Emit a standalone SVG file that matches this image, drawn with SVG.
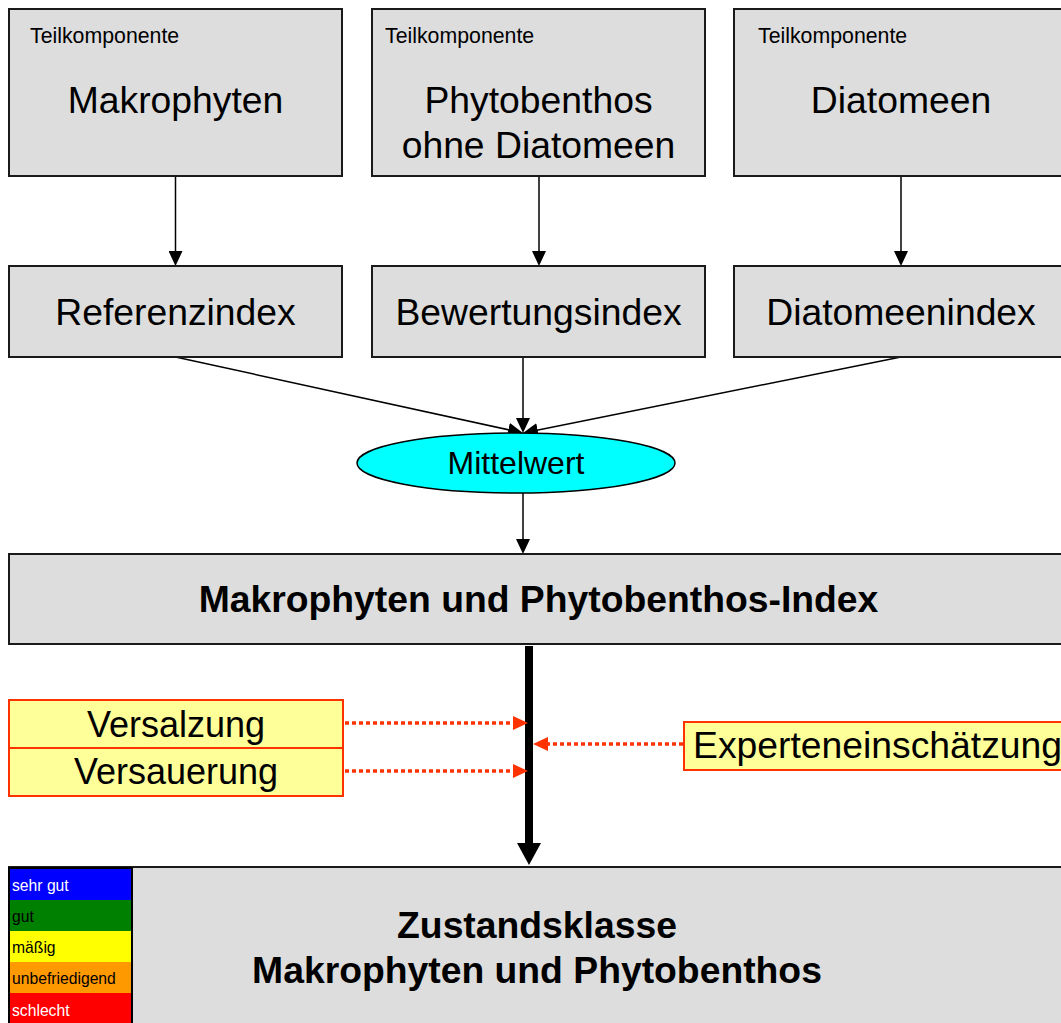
<svg xmlns="http://www.w3.org/2000/svg" width="1061" height="1023" viewBox="0 0 1061 1023">
<style>
text{font-family:"Liberation Sans",Arial,sans-serif;fill:#000}
.box{fill:#DDDDDD;stroke:#1a1a1a;stroke-width:2}
.yel{fill:#FFFF99;stroke:#FF3300;stroke-width:2}
.small{font-size:21.3px}
.big{font-size:37.3px}
.bold{font-size:37.3px;font-weight:bold}
.leg{font-size:15.7px}
.c{text-anchor:middle}
.thin{stroke:#000;stroke-width:1.5;fill:none}
.dot{stroke:#FF3300;stroke-width:3.5;stroke-dasharray:4 3;fill:none}
</style>
<defs>
<marker id="ab" viewBox="0 0 15 14" refX="2" refY="7" markerWidth="15" markerHeight="14" markerUnits="userSpaceOnUse" orient="auto"><path d="M0,0L15,7L0,14z" fill="#000"/></marker>
<marker id="ar" viewBox="0 0 15 14" refX="1" refY="7" markerWidth="15" markerHeight="14" markerUnits="userSpaceOnUse" orient="auto"><path d="M0,0L15,7L0,14z" fill="#FF3300"/></marker>
<marker id="abig" viewBox="0 0 22 24" refX="1" refY="12" markerWidth="22" markerHeight="24" markerUnits="userSpaceOnUse" orient="auto"><path d="M0,0L22,12L0,24z" fill="#000"/></marker>
</defs>
<rect width="1061" height="1023" fill="#fff"/>

<g id="connectors">
<line class="thin" x1="175.5" y1="176" x2="175.5" y2="253" marker-end="url(#ab)"/>
<line class="thin" x1="539" y1="176" x2="539" y2="253" marker-end="url(#ab)"/>
<line class="thin" x1="901" y1="176" x2="901" y2="253" marker-end="url(#ab)"/>
<line class="thin" x1="175.5" y1="357" x2="510.3" y2="430.2" marker-end="url(#ab)"/>
<line class="thin" x1="523" y1="357" x2="523" y2="420" marker-end="url(#ab)"/>
<line class="thin" x1="901" y1="357" x2="535.7" y2="430.5" marker-end="url(#ab)"/>
<line class="thin" x1="523" y1="493" x2="523" y2="541" marker-end="url(#ab)"/>
<line x1="529" y1="646" x2="529" y2="844" stroke="#000" stroke-width="8" marker-end="url(#abig)"/>
<line class="dot" x1="345" y1="723" x2="514" y2="723" marker-end="url(#ar)"/>
<line class="dot" x1="345" y1="771" x2="514" y2="771" marker-end="url(#ar)"/>
<line class="dot" x1="683" y1="744" x2="547" y2="744" marker-end="url(#ar)"/>
</g>

<g id="makrophyten">
<rect class="box" x="9" y="9" width="333" height="167"/>
<text class="small" x="30" y="43">Teilkomponente</text>
<text class="big c" x="175.5" y="113">Makrophyten</text>
</g>
<g id="phytobenthos">
<rect class="box" x="372" y="9" width="333" height="167"/>
<text class="small" x="385" y="43">Teilkomponente</text>
<text class="big c" x="538.5" y="113">Phytobenthos</text>
<text class="big c" x="538.5" y="158">ohne Diatomeen</text>
</g>
<g id="diatomeen">
<rect class="box" x="734" y="9" width="334" height="167"/>
<text class="small" x="758" y="43">Teilkomponente</text>
<text class="big c" x="901" y="113">Diatomeen</text>
</g>

<g id="referenzindex">
<rect class="box" x="9" y="266" width="333" height="91"/>
<text class="big c" x="175.5" y="325">Referenzindex</text>
</g>
<g id="bewertungsindex">
<rect class="box" x="372" y="266" width="333" height="91"/>
<text class="big c" x="538.5" y="325">Bewertungsindex</text>
</g>
<g id="diatomeenindex">
<rect class="box" x="734" y="266" width="334" height="91"/>
<text class="big c" x="901" y="325">Diatomeenindex</text>
</g>

<g id="mittelwert">
<ellipse cx="516" cy="463" rx="159" ry="30" fill="#00FFFF" stroke="#000" stroke-width="1.5"/>
<text class="c" x="516" y="474" font-size="32">Mittelwert</text>
</g>

<g id="mpi">
<rect class="box" x="9" y="554" width="1060" height="90"/>
<text class="bold c" x="538.5" y="612">Makrophyten und Phytobenthos-Index</text>
</g>

<g id="versalzung">
<rect class="yel" x="9" y="700" width="334" height="48"/>
<text class="c" x="176" y="737" font-size="36">Versalzung</text>
</g>
<g id="versauerung">
<rect class="yel" x="9" y="748" width="334" height="48"/>
<text class="c" x="176" y="784" font-size="36">Versauerung</text>
</g>
<g id="experteneinschaetzung">
<rect class="yel" x="684" y="722" width="390" height="48"/>
<text x="693" y="758" font-size="37.3">Experteneinschätzung</text>
</g>

<g id="zustandsklasse">
<rect class="box" x="9" y="867" width="1060" height="170"/>
<text class="bold c" x="537" y="938">Zustandsklasse</text>
<text class="bold c" x="537" y="983">Makrophyten und Phytobenthos</text>
</g>

<g id="legend">
<rect x="8" y="867" width="125" height="160" fill="#000"/>
<rect x="10" y="869" width="121" height="31" fill="#0000FF"/>
<rect x="10" y="900" width="121" height="31" fill="#008000"/>
<rect x="10" y="931" width="121" height="31" fill="#FFFF00"/>
<rect x="10" y="962" width="121" height="31" fill="#FF9900"/>
<rect x="10" y="993" width="121" height="32" fill="#FF0000"/>
<text class="leg" x="12" y="891" style="fill:#fff">sehr gut</text>
<text class="leg" x="12" y="922">gut</text>
<text class="leg" x="12" y="953">mäßig</text>
<text class="leg" x="12" y="984">unbefriedigend</text>
<text class="leg" x="12" y="1016" style="fill:#fff">schlecht</text>
</g>
</svg>
